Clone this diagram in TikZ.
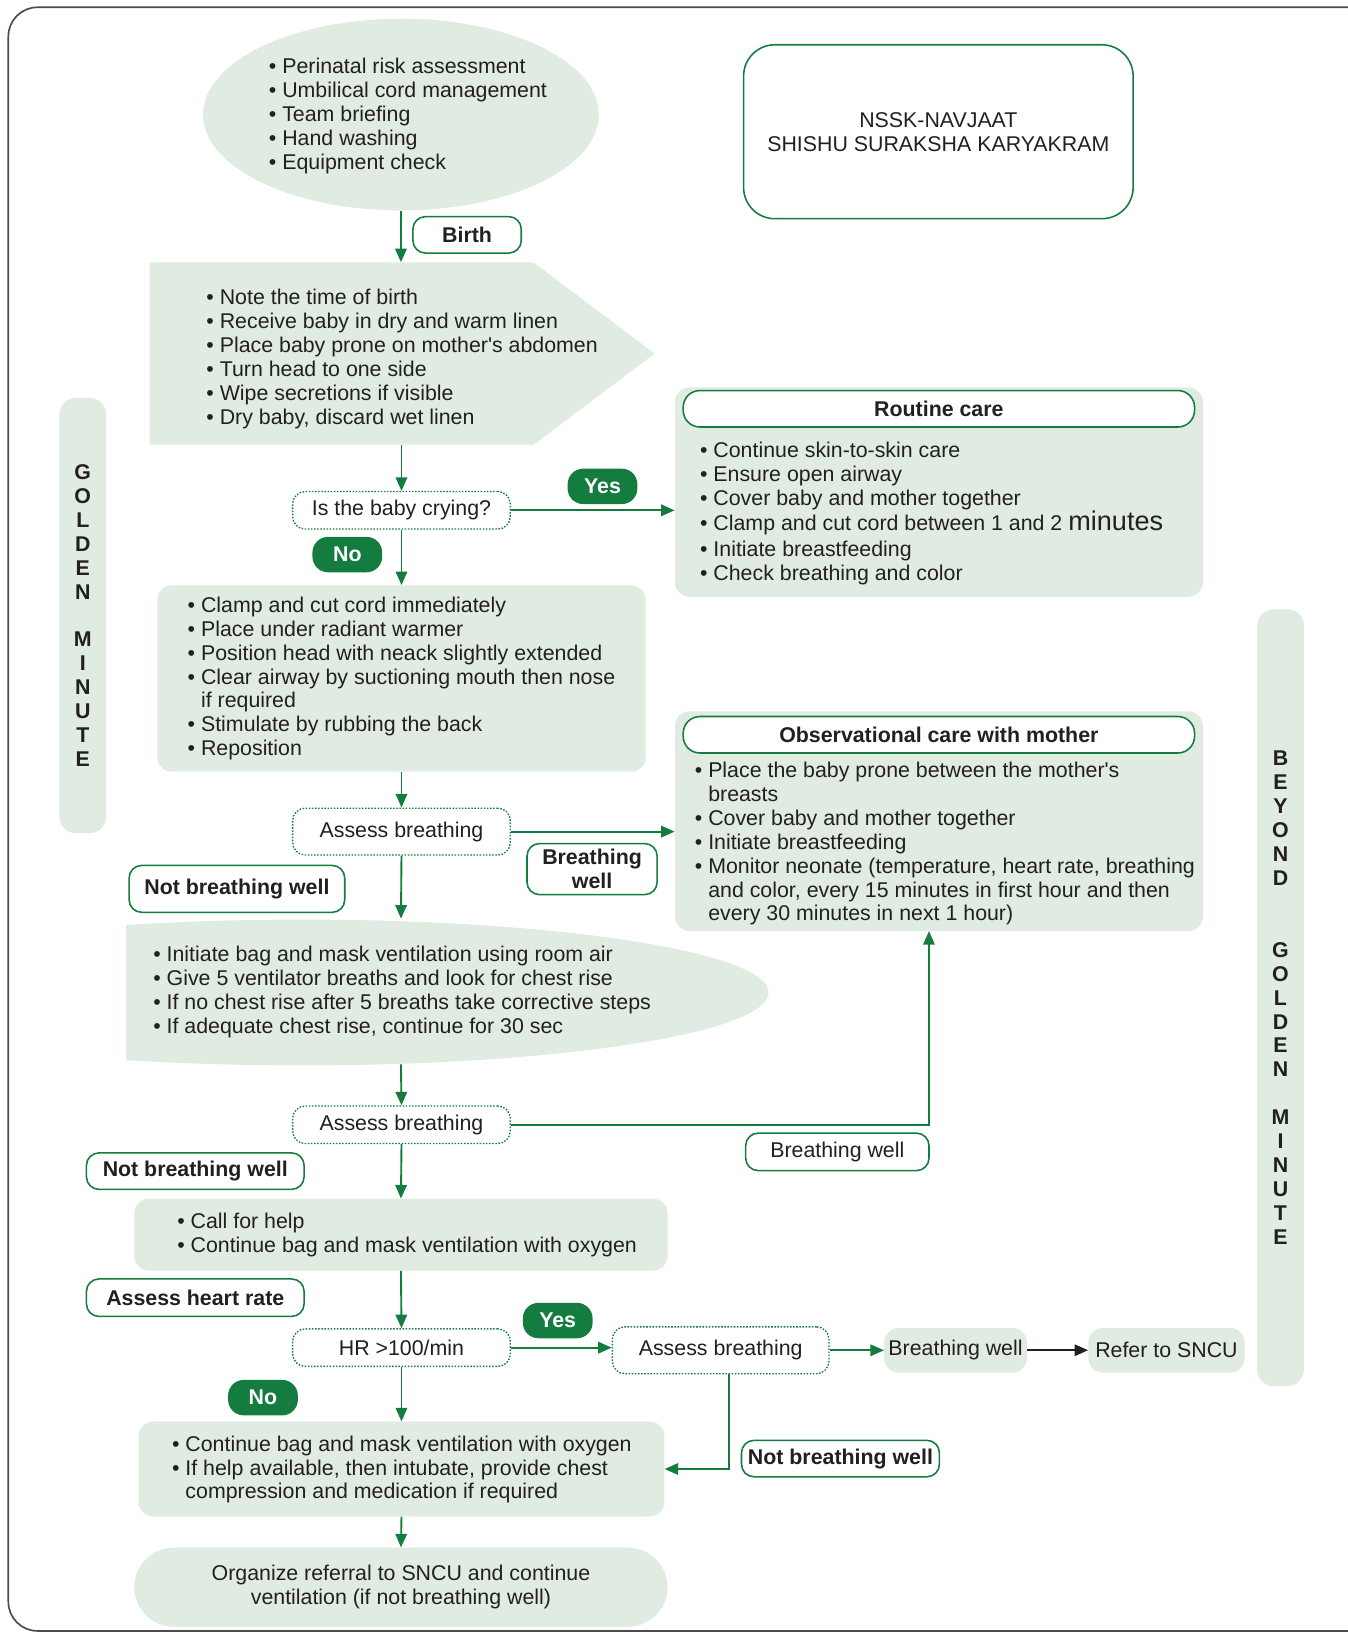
\documentclass[tikz,border=0pt]{standalone}
\usepackage{fontspec}
\setmainfont{Liberation Sans}
\usetikzlibrary{arrows.meta,shapes.geometric,shapes.symbols}

\definecolor{nsgreen}{RGB}{20,124,62}
\definecolor{boxgreen}{RGB}{224,235,225}
\definecolor{inkgrey}{RGB}{35,31,32}
\definecolor{framegrey}{RGB}{75,75,75}

\newcommand{\bul}{\textbullet\ }
\newcommand{\bulgap}{\phantom{\textbullet\ }}

\begin{document}
\begin{tikzpicture}[x=1pt, y=-1pt,
    font=\fontsize{20.5}{23}\selectfont, text=inkgrey,
    panel/.style={fill=boxgreen, rounded corners=14pt, inner sep=0pt},
    tag/.style={draw=nsgreen, line width=1.5pt, fill=white, rounded corners=12pt,
        font=\fontsize{20.5}{23}\selectfont\bfseries, inner sep=0pt},
    choice/.style={draw=nsgreen, line width=1.3pt, dash pattern=on 1.5pt off 1.5pt,
        fill=white, rounded corners=12pt, minimum width=209pt, inner sep=0pt},
    yesno/.style={fill=nsgreen, text=white, rounded corners=15pt,
        font=\fontsize{20.5}{23}\selectfont\bfseries,
        minimum width=67pt, minimum height=34pt, inner sep=0pt},
    list/.style={anchor=west, align=left, inner sep=0pt},
    bar/.style={fill=boxgreen, rounded corners=16pt, minimum width=45pt,
        align=center, inner sep=0pt, font=\fontsize{20.5}{23}\selectfont\bfseries},
    arr/.style={draw=nsgreen, line width=1.8pt, -{Triangle[length=13pt,width=11pt]}}]

    \useasboundingbox (0,0) rectangle (1294,1568);
    % Outer frame
    \draw[framegrey, line width=1.6pt, rounded corners=28pt] (8,7) rectangle (1330,1566);

    % Before birth
    \node[ellipse, fill=boxgreen, minimum width=380pt, minimum height=184pt, inner sep=0pt] (prep) at (385,110) {};
    \node[list] (prepText) at (258,111) {\bul Perinatal risk assessment\\
        \bul Umbilical cord management\\ \bul Team briefing\\ \bul Hand washing\\ \bul Equipment check};
    \node[tag, minimum width=104pt, minimum height=35pt] (birth) at (448.5,225.5) {Birth};

    \node[draw=nsgreen, line width=1.5pt, rounded corners=30pt, minimum width=374pt,
        minimum height=167pt, align=center] (nssk) at (901,126.5) {NSSK-NAVJAAT\\SHISHU SURAKSHA KARYAKRAM};

    % At birth
    \node[signal, signal to=east, signal pointer angle=74, fill=boxgreen, minimum width=485pt,
        minimum height=175pt, inner sep=0pt] (receive) at (328,339.5) {};
    \node[list] (receiveText) at (198,345) {\bul Note the time of birth\\
        \bul Receive baby in dry and warm linen\\ \bul Place baby prone on mother\textquotesingle s abdomen\\
        \bul Turn head to one side\\ \bul Wipe secretions if visible\\ \bul Dry baby, discard wet linen};

    \node[choice, minimum height=36pt] (cry) at (385.5,490) {Is the baby crying?};
    \node[yesno] (yes1) at (578.5,467) {Yes};
    \node[yesno] (no1) at (333.5,532.5) {No};

    % Routine care
    \node[panel, minimum width=507pt, minimum height=201pt] (routine) at (901.5,472.5) {};
    \node[tag, minimum width=491pt, minimum height=35pt, rounded corners=16pt] (routineHead) at (901.5,392.5) {Routine care};
    \node[list] (routineText) at (672,493) {\bul Continue skin-to-skin care\\ \bul Ensure open airway\\
        \bul Cover baby and mother together\\
        \bul Clamp and cut cord between 1 and 2 {\fontsize{26}{23}\selectfont minutes}\\[2pt]
        \bul Initiate breastfeeding\\ \bul Check breathing and color};

    % Not crying
    \node[panel, minimum width=469pt, minimum height=179pt] (steps) at (385.5,651.5) {};
    \node[list] (stepsText) at (180,651.5) {\bul Clamp and cut cord immediately\\
        \bul Place under radiant warmer\\ \bul Position head with neack slightly extended\\
        \bul Clear airway by suctioning mouth then nose\\ \bulgap if required\\
        \bul Stimulate by rubbing the back\\ \bul Reposition};

    \node[choice, minimum height=45pt] (breath1) at (385.5,798.5) {Assess breathing};
    \node[tag, minimum width=125pt, minimum height=49pt, align=center] (well1) at (568.5,834.5) {Breathing\\well};
    \node[tag, minimum width=207pt, minimum height=45pt] (notwell1) at (227.5,853.5) {Not breathing well};

    % Observational care
    \node[panel, minimum width=507pt, minimum height=211pt] (observe) at (901.5,788.5) {};
    \node[tag, minimum width=491pt, minimum height=35pt, rounded corners=16pt] (observeHead) at (901.5,705.5) {Observational care with mother};
    \node[list] (observeText) at (667,810) {\bul Place the baby prone between the mother\textquotesingle s\\ \bulgap breasts\\
        \bul Cover baby and mother together\\ \bul Initiate breastfeeding\\
        \bul Monitor neonate (temperature, heart rate, breathing\\
        \bulgap and color, every 15 minutes in first hour and then\\
        \bulgap every 30 minutes in next 1 hour)};

    % Bag and mask
    \begin{scope}
        \clip (121,850) rectangle (760,1050);
        \fill[boxgreen] (290,953) ellipse [x radius=448, y radius=70];
    \end{scope}
    \node[list] (ventText) at (147,952.5) {\bul Initiate bag and mask ventilation using room air\\
        \bul Give 5 ventilator breaths and look for chest rise\\
        \bul If no chest rise after 5 breaths take corrective steps\\
        \bul If adequate chest rise, continue for 30 sec};
    \coordinate (ventTop) at (385,882);
    \coordinate (ventBot) at (385,1022);

    \node[choice, minimum height=36pt] (breath2) at (385.5,1080) {Assess breathing};
    \node[tag, font=\fontsize{20.5}{23}\selectfont, minimum width=176pt, minimum height=36pt] (well2) at (804,1106) {Breathing well};
    \coordinate (obsIn) at (892,894);
    \node[tag, minimum width=209pt, minimum height=35pt] (notwell2) at (187.5,1124.5) {Not breathing well};

    \node[panel, minimum width=512pt, minimum height=69pt] (help) at (385,1185.5) {};
    \node[list] (helpText) at (170,1185.5) {\bul Call for help\\ \bul Continue bag and mask ventilation with oxygen};

    % Heart rate
    \node[tag, minimum width=209pt, minimum height=36pt] (hrTag) at (187.5,1246) {Assess heart rate};
    \node[choice, minimum height=36pt] (hr) at (385.5,1294) {HR >100/min};
    \node[yesno] (yes2) at (535.5,1268) {Yes};
    \node[yesno] (no2) at (252.5,1342) {No};
    \node[choice, minimum width=208pt, minimum height=45pt] (breath3) at (692,1296.5) {Assess breathing};
    \node[panel, minimum width=137pt, minimum height=43pt] (well3) at (917.5,1296.5) {Breathing well};
    \node[panel, minimum width=150pt, minimum height=43pt] (refer) at (1120,1296.5) {Refer to SNCU};
    \node[tag, minimum width=190pt, minimum height=35pt] (notwell3) at (807,1400.5) {Not breathing well};

    \node[panel, minimum width=505pt, minimum height=91pt] (advanced) at (385.5,1410.5) {};
    \node[list] (advancedText) at (165,1411) {\bul Continue bag and mask ventilation with oxygen\\
        \bul If help available, then intubate, provide chest\\ \bulgap compression and medication if required};
    \node[panel, minimum width=512pt, minimum height=76pt, rounded corners=38pt, align=center] (organize) at (385,1524)
        {Organize referral to SNCU and continue\\ventilation (if not breathing well)};

    % Side bars
    \node[bar, minimum height=418pt] (golden) at (79.5,591) {G\\O\\L\\D\\E\\N\\~\\M\\I\\N\\U\\T\\E};
    \node[bar, minimum height=746pt] (beyond) at (1229.5,958)
        {B\\E\\Y\\O\\N\\D\\~\\~\\G\\O\\L\\D\\E\\N\\~\\M\\I\\N\\U\\T\\E};

    % Arrows
    \draw[arr] (prep.south) -- (prep.south |- receive.north);
    \draw[arr] (receive.south -| cry.north) -- (cry.north);
    \draw[arr] (cry.east) -- (cry.east -| routine.west);
    \draw[arr] (cry.south) -- (steps.north);
    \draw[arr] (steps.south) -- (breath1.north);
    \draw[arr] (breath1.east) -- (breath1.east -| observe.west);
    \draw[arr] (breath1.south) -- (ventTop);
    \draw[arr] (ventBot) -- (breath2.north);
    \draw[arr] (breath2.east) -| (obsIn);
    \draw[arr] (breath2.south) -- (help.north);
    \draw[arr] (help.south) -- (hr.north);
    \draw[arr] (hr.east) -- (hr.east -| breath3.west);
    \draw[arr] (breath3.east) -- (well3.west);
    \draw[arr, draw=inkgrey] (well3.east) -- (refer.west);
    \draw[arr] ([xshift=8pt]breath3.south) |- (advanced.east);
    \draw[arr] (hr.south) -- (advanced.north);
    \draw[arr] (advanced.south) -- (organize.north);
\end{tikzpicture}
\end{document}
